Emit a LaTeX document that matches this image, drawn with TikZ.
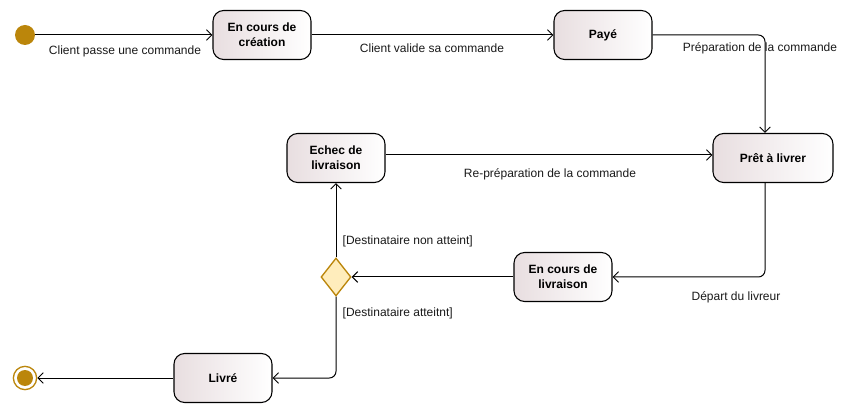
\documentclass[tikz,border=0pt]{standalone}
\usepackage{fontspec}
\setmainfont{Liberation Sans}
\usetikzlibrary{arrows.meta, shapes.geometric, positioning}
\definecolor{gold}{RGB}{187,134,11}
\definecolor{diafill}{RGB}{255,237,188}
\definecolor{stfill}{RGB}{232,222,224}

\begin{document}
\begin{tikzpicture}[x = 0.75pt, y = -0.75pt,
  st/.style = {draw, line width = 0.8pt, rounded corners = 8pt, minimum width = 73.5pt, minimum height = 36.75pt, inner sep = 1pt,
    left color = stfill, right color = white, align = center, font = \bfseries\fontsize{9}{11}\selectfont},
  initst/.style = {circle, fill = gold, minimum size = 15pt, inner sep = 0pt},
  finst/.style = {circle, draw = gold, line width = 1pt, fill = white, minimum size = 17.5pt, inner sep = 0pt,
    path picture = {\fill[gold] (path picture bounding box.center) circle (6pt);}},
  dec/.style = {diamond, draw = gold, line width = 1pt, fill = diafill, minimum width = 22.5pt, minimum height = 28.5pt, inner sep = 0pt},
  flow/.style = {-{Straight Barb[length = 4pt, width = 8pt]}, line width = 0.75pt, rounded corners = 5pt},
  lbl/.style = {font = \fontsize{9}{11}\selectfont, text = black!90}]
\useasboundingbox (0,0) rectangle (860,413);
\node[initst] (debut) at (25,35) {};
\node[st] (creation) at (262,35) {En cours de\\création};
\node[st] (paye) at (603,35) {Payé};
\node[st, minimum width = 90pt] (pret) at (773,158) {Prêt à livrer};
\node[st] (echec) at (336,158) {Echec de\\livraison};
\node[st] (encours) at (563,277) {En cours de\\livraison};
\node[dec] (choix) at (336,277) {};
\node[st] (livre) at (223,378) {Livré};
\node[finst] (fin) at (25,378) {};

\draw[flow] (debut) -- (creation);
\draw[flow] (creation) -- (paye);
\draw[flow] (paye.east) -| ([xshift = -6pt]pret.north);
\draw[flow] (echec.east |- 0,155) -- (pret.west |- 0,155);
\draw[flow] ([xshift = -6pt]pret.south) |- (encours.east);
\draw[flow] (encours) -- (choix);
\draw[flow] (choix) -- (echec);
\draw[flow] (choix.south) |- (livre.east);
\draw[flow] (livre) -- (fin);

\node[lbl] at (125,51) {Client passe une commande};
\node[lbl] at (432,48) {Client valide sa commande};
\node[lbl] at (760,48) {Préparation de la commande};
\node[lbl] at (550,174) {Re-préparation de la commande};
\node[lbl] at (736,297) {Départ du livreur};
\node[lbl, anchor = west] at (338,241) {[Destinataire non atteint]};
\node[lbl, anchor = west] at (338,313) {[Destinataire atteitnt]};
\end{tikzpicture}
\end{document}
